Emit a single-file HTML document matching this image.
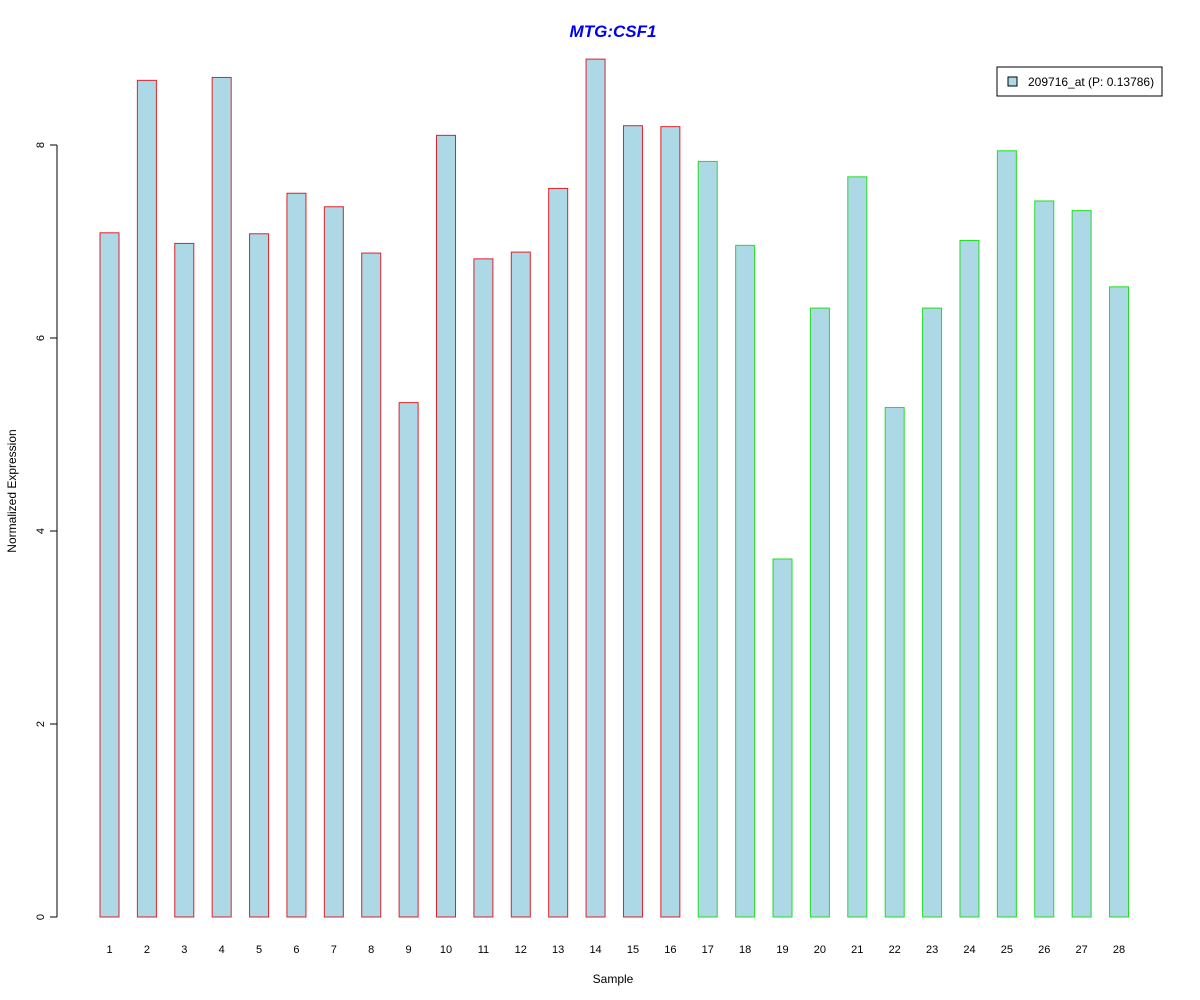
<!DOCTYPE html>
<html><head><meta charset="utf-8"><style>
body{margin:0;background:#fff;}
svg{display:block;font-family:"Liberation Sans",Arial,sans-serif;}
</style></head><body>
<svg id="chart" width="1200" height="1000">
<text x="613" y="37" text-anchor="middle" font-size="17" font-weight="bold" font-style="italic" fill="#0000ee">MTG:CSF1</text>
<text x="613" y="983" text-anchor="middle" font-size="12" fill="#000">Sample</text>
<text transform="translate(16,491) rotate(-90)" text-anchor="middle" font-size="12" fill="#000">Normalized Expression</text>
<g id="yaxis"></g>
<g id="bars"></g>
<g id="xlabels"></g>
<g>
<rect x="997" y="67" width="165" height="29" fill="#fff" stroke="#000" stroke-width="1"/>
<rect x="1008" y="77" width="9" height="9" fill="#add8e6" stroke="#000" stroke-width="1"/>
<text x="1028" y="86" font-size="12" fill="#000">209716_at (P: 0.13786)</text>
</g>
</svg>
<script>
const categories = ["1","2","3","4","5","6","7","8","9","10","11","12","13","14","15","16","17","18","19","20","21","22","23","24","25","26","27","28"];
const values = [7.09,8.67,6.98,8.70,7.08,7.50,7.36,6.88,5.33,8.10,6.82,6.89,7.55,8.89,8.20,8.19,7.83,6.96,3.71,6.31,7.67,5.28,6.31,7.01,7.94,7.42,7.32,6.53];
const groups = ["a","a","a","a","a","a","a","a","a","a","a","a","a","a","a","a","b","b","b","b","b","b","b","b","b","b","b","b"];
const yTicks = [0,2,4,6,8];
const NS="http://www.w3.org/2000/svg";
const y0=917, pxPerUnit=96.5;
const yScale=v=>y0-v*pxPerUnit;
const xScale=i=>109.5+i*37.39;
const bw=19;
function mk(tag,attrs,parent){const e=document.createElementNS(NS,tag);for(const k in attrs)e.setAttribute(k,attrs[k]);parent.appendChild(e);return e;}
const ya=document.getElementById('yaxis');
const ax=mk('line',{x1:57,x2:57,y1:yScale(yTicks[0]),y2:yScale(yTicks[yTicks.length-1]),stroke:'#000'},ya);


yTicks.forEach(t=>{
  const tk=mk('line',{x1:50,x2:57,y1:yScale(t),y2:yScale(t),stroke:'#000'},ya);
  
  
  const tx=mk('text',{transform:`translate(44,${yScale(t)}) rotate(-90)`,'text-anchor':'middle','font-size':11},ya);
  tx.textContent=t;
  
  
});
const bg=document.getElementById('bars'), xl=document.getElementById('xlabels');
values.forEach((v,i)=>{
  const r=mk('rect',{x:xScale(i)-bw/2,y:yScale(v),width:bw,height:yScale(0)-yScale(v),fill:'#add8e6',stroke:groups[i]==='a'?'#e0202a':'#22dd22','stroke-width':1},bg);
  
  
  const t=mk('text',{x:xScale(i),y:953,'text-anchor':'middle','font-size':11},xl);
  t.textContent=categories[i];
  
  
});
</script>
</body></html>
